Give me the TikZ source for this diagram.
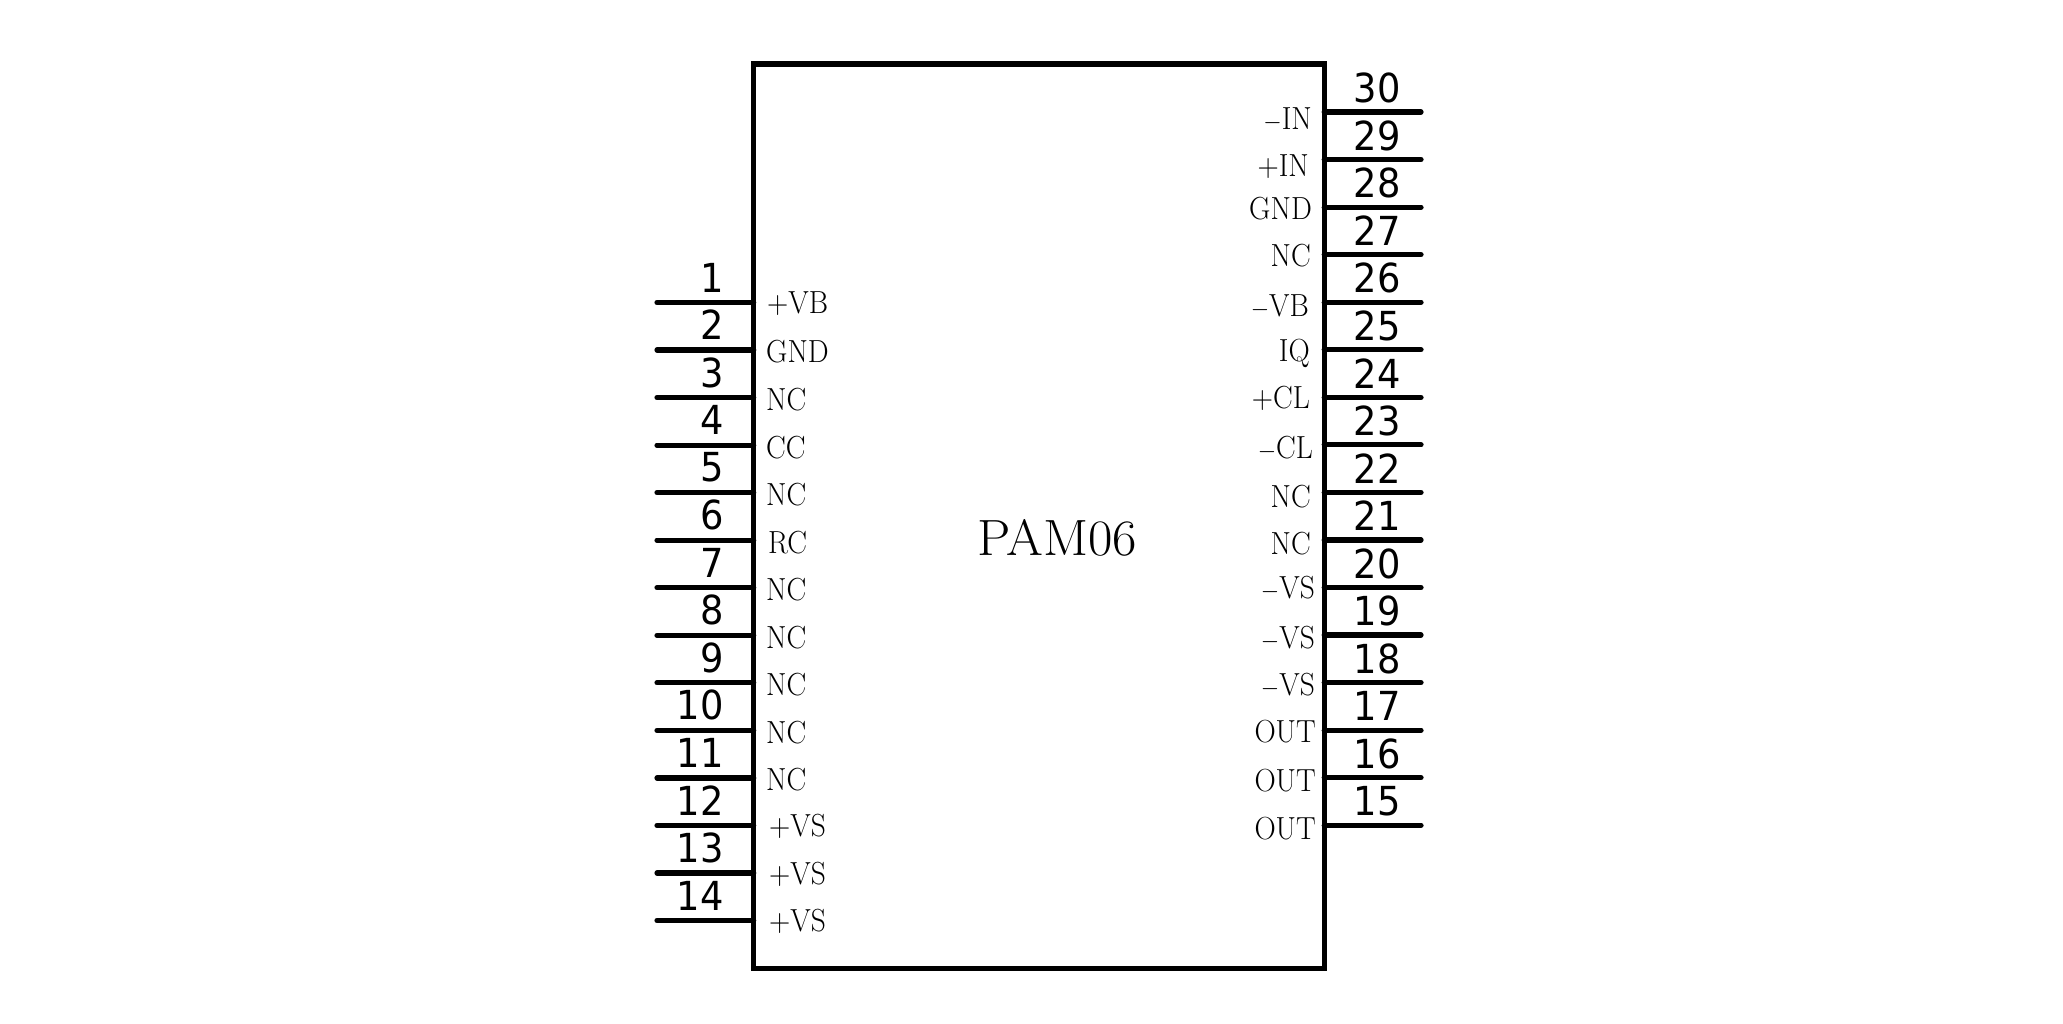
\documentclass[tikz,border=0pt]{standalone}
\usepackage{fontspec}
\newfontfamily\pinfont{DejaVu Sans}
\begin{document}
\begin{tikzpicture}[x=1pt,y=-1pt,
  pinline/.style={line width=5.2pt,line cap=round},
  bodybox/.style={draw,line width=5.2pt,minimum width=570.5pt,minimum height=904.5pt,inner sep=0pt,outer sep=0pt,anchor=north west},
  pinnum/.style={font=\pinfont\fontsize{40}{40}\selectfont,inner sep=0pt,xscale=.92,transform shape},
  sig/.style={font=\fontsize{31}{31}\selectfont,inner sep=0pt,xscale=.95,yscale=1.03,transform shape},
  title/.style={font=\fontsize{51}{51}\selectfont,inner sep=0pt,xscale=1.04,transform shape}]
\useasboundingbox (0,0) rectangle (2063,1023);
\fill[white] (0,0) rectangle (2063,1023);
\node[bodybox] (body) at (753.7,64) {};
\node[title] (name) at (1057,538) {PAM06};
% left pins
\foreach \n/\lab/\lx/\dy [evaluate=\n as \py using {302.5+(\n-1)*47.54}] in
 {1/+VB/767/1,2/GND/766/2,3/NC/766/2,4/CC/766/2,5/NC/766/2,6/RC/768/2,7/NC/766/2,8/NC/766/2,9/NC/766/2,10/NC/766/2,11/NC/766/2,12/+VS/769/1,13/+VS/769/1,14/+VS/769/1}{
  \coordinate (pa\n) at (657,\py);
  \coordinate (pb\n) at (753.7,\py);
  \draw[pinline] (pa\n) -- (pb\n);
  \node[pinnum,anchor=east] (num\n) at (724,\py-25) {\n};
  \node[sig,anchor=west] (sig\n) at (\lx,\py+\dy) {\lab};
}
% right pins
\foreach \n/\lab/\rx/\dy [evaluate=\n as \py using {112+(30-\n)*47.55}] in
 {30/{$-$}IN/1312/8,29/+IN/1309/7,28/GND/1312/1,27/NC/1311/1,26/{$-$}VB/1309/4,25/IQ/1310/4,24/+CL/1310/1,23/{$-$}CL/1313/4,22/NC/1311/4,21/NC/1311/4,20/{$-$}VS/1315/1,19/{$-$}VS/1315/3,18/{$-$}VS/1315/3,17/OUT/1316/1,16/OUT/1316/3,15/OUT/1316/3}{
  \coordinate (pa\n) at (1324.2,\py);
  \coordinate (pb\n) at (1421,\py);
  \draw[pinline] (pa\n) -- (pb\n);
  \node[pinnum,anchor=west] (num\n) at (1353.5,\py-24) {\n};
  \node[sig,anchor=east] (sig\n) at (\rx,\py+\dy) {\lab};
}
\end{tikzpicture}
\end{document}
